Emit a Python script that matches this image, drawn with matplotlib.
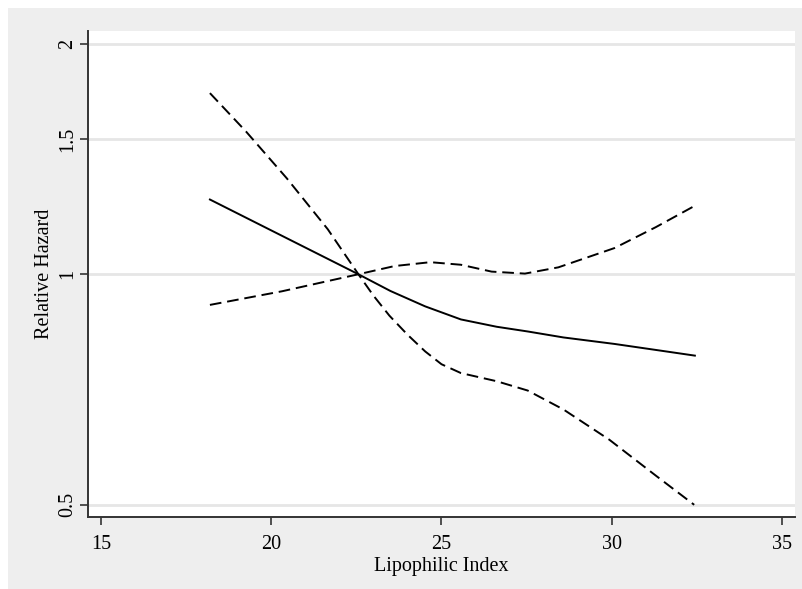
import matplotlib
matplotlib.use('agg')
import matplotlib.pyplot as plt
from matplotlib.patches import Rectangle

# Relative hazard vs lipophilic index
x_fit = [18.2, 20.0, 22.56, 23.5, 24.52, 25.57, 26.62, 27.53, 28.58, 30.08, 31.59, 32.44]
rh_fit = [1.252, 1.141, 1.0, 0.951, 0.908, 0.873, 0.854, 0.842, 0.827, 0.811, 0.793, 0.783]

x_ci1 = [18.2, 20.31, 22.56, 23.62, 24.67, 25.57, 26.47, 27.45, 28.43, 30.08, 31.29, 32.37]
rh_ci1 = [0.912, 0.950, 1.0, 1.025, 1.037, 1.029, 1.008, 1.002, 1.021, 1.082, 1.152, 1.224]

x_ci2 = [18.2, 19.26, 20.46, 21.66, 22.56, 23.0, 23.47, 24.0, 24.52, 25.0, 25.57, 26.62,
         27.53, 28.58, 29.93, 31.29, 32.42]
rh_ci2 = [1.724, 1.536, 1.334, 1.145, 1.0, 0.938, 0.883, 0.834, 0.793, 0.763, 0.743, 0.725,
          0.705, 0.666, 0.608, 0.546, 0.500]

xticks = [15, 20, 25, 30, 35]
yticks = [0.5, 1, 1.5, 2]
ytick_labels = ['0.5', '1', '1.5', '2']

plt.rcParams['font.family'] = ['Liberation Serif', 'DejaVu Serif']

fig = plt.figure(figsize=(8.03, 5.89), dpi=100)
fig.patch.set_facecolor('white')
# grey graph region (white strip along top and left edge)
fig.patches.append(Rectangle((8 / 803, 0), 1, 1 - 8 / 589, transform=fig.transFigure,
                             facecolor='#eeeeee', edgecolor='none', zorder=-10))

ax = fig.add_axes([88 / 803, 72 / 589, 707 / 803, 486 / 589])
ax.set_facecolor('white')
ax.set_yscale('log')
ax.set_xlim(14.62, 35.38)
ax.set_ylim(0.482, 2.078)

for y in yticks:
    ax.axhline(y, color='#e6e6e6', lw=2, zorder=0)

ax.plot(x_fit, rh_fit, color='black', lw=1.4)
ax.plot(x_ci1, rh_ci1, color='black', lw=1.4, dashes=(6, 3))
ax.plot(x_ci2, rh_ci2, color='black', lw=1.4, dashes=(6, 3))

ax.set_xticks(xticks)
ax.set_xticklabels([str(t) for t in xticks])
ax.set_yticks(yticks)
ax.set_yticklabels(ytick_labels, rotation=90, va='center')
ax.yaxis.set_minor_locator(matplotlib.ticker.NullLocator())

ax.tick_params(direction='out', length=6, width=1.2, color='#333333',
               labelsize=14.5)
ax.tick_params(axis='x', pad=7)
ax.tick_params(axis='y', pad=2)
for s in ['top', 'right']:
    ax.spines[s].set_visible(False)
for s in ['left', 'bottom']:
    ax.spines[s].set_color('#333333')
    ax.spines[s].set_linewidth(1.4)

ax.set_xlabel('Lipophilic Index', fontsize=14.5, labelpad=2)
ax.set_ylabel('Relative Hazard', fontsize=14.5, labelpad=3)

plt.savefig('out.png', dpi=100)
